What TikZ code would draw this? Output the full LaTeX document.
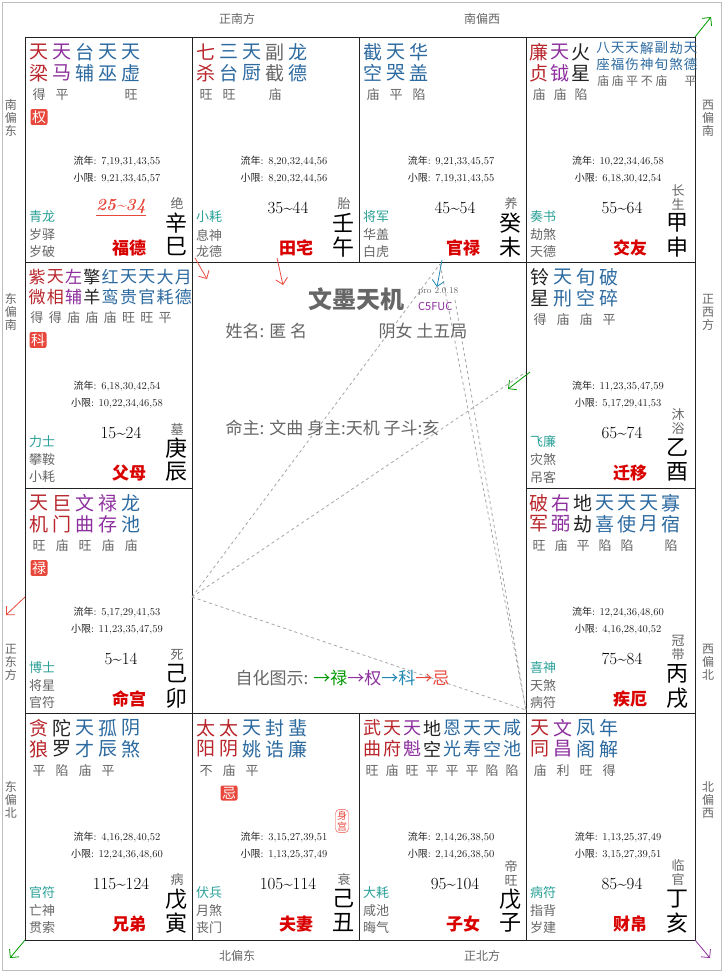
\documentclass[tikz,border=0pt]{standalone}
\usepackage{fontspec}
\newfontfamily\cjk{Noto Sans CJK SC}
\usetikzlibrary{arrows.meta}
\definecolor{xred}{HTML}{B8262C}
\definecolor{xpur}{HTML}{8E2F9E}
\definecolor{xblu}{HTML}{2C6AA0}
\definecolor{xblk}{HTML}{222222}
\definecolor{xgry}{HTML}{666666}
\definecolor{xtea}{HTML}{2AA198}
\definecolor{xbad}{HTML}{E8473C}
\tikzset{
  xing/.style={font=\cjk\fontsize{19}{19}\selectfont, inner sep=0pt},
  liang/.style={font=\cjk\fontsize{13}{13}\selectfont, text=xgry, inner sep=0pt},
  shen/.style={font=\cjk\fontsize{13}{14}\selectfont, inner sep=0pt, anchor=west},
  nian/.style={font=\fontsize{10.5}{11}\selectfont, text=xblk},
  badge/.style={font=\cjk\fontsize{14}{14}\selectfont, text=white, fill=xbad, rounded corners=2pt, inner sep=1.5pt},
  fang/.style={font=\cjk\fontsize{12}{13}\selectfont, text=xgry, align=center},
  gdash/.style={gray!70, dashed, thick},
  jiantou/.style={-{Straight Barb[length=6pt]}, thick},
}
\newcommand\liunian[2]{%
  \node[nian] at (92,124) {{\cjk\fontsize{10}{10}\selectfont 流年}: #1};
  \node[nian] at (92,141) {{\cjk\fontsize{10}{10}\selectfont 小限}: #2};
}
\newcommand\gongdi[8]{%
  \node[shen, text=xtea] at (4,180) {#1};
  \node[shen, text=xgry] at (4,198) {#2};
  \node[shen, text=xgry] at (4,215) {#3};
  \node[font=\fontsize{17}{17}\selectfont] (age) at (96,171) {#4};
  \node[font=\cjk\fontsize{13}{14}\selectfont, text=xgry, align=center, anchor=south, inner sep=0pt] at (152,173) {#5};
  \node[font=\cjk\fontsize{22}{22}\selectfont, inner sep=0pt] at (151,186) {#6};
  \node[font=\cjk\fontsize{22}{22}\selectfont, inner sep=0pt] at (151,210) {#7};
  \node[font=\cjk\bfseries\fontsize{17}{17}\selectfont, text=red!85!black] at (104,211) {#8};
}
\begin{document}
\begin{tikzpicture}[x=1pt,y=-1pt]
  \useasboundingbox (0,0) rectangle (723,972);
  \fill[white] (0,0) rectangle (723,972);
  \draw[gray!50] (2,2) rectangle (721,970);
  % grid
  \draw[xblk] (25,37) rectangle (695,940);
  \foreach \x in {192,359,526}{
    \draw[xblk] (\x,37) -- (\x,262);
    \draw[xblk] (\x,713) -- (\x,940);
  }
  \foreach \y in {262,488,713}{
    \draw[xblk] (25,\y) -- (192,\y);
    \draw[xblk] (526,\y) -- (695,\y);
  }
  \draw[xblk] (25,262) -- (695,262);
  \draw[xblk] (25,713) -- (695,713);
  \draw[xblk] (192,262) -- (192,713);
  \draw[xblk] (526,262) -- (526,713);
  % directions
  \node[fang] at (237,19) {正南方};
  \node[fang] at (482,19) {南偏西};
  \node[fang] at (237,956) {北偏东};
  \node[fang] at (482,956) {正北方};
  \node[fang] at (11,118) {南\\偏\\东};
  \node[fang] at (11,312) {东\\偏\\南};
  \node[fang] at (11,662) {正\\东\\方};
  \node[fang] at (11,800) {东\\偏\\北};
  \node[fang] at (708,118) {西\\偏\\南};
  \node[fang] at (708,312) {正\\西\\方};
  \node[fang] at (708,662) {西\\偏\\北};
  \node[fang] at (708,800) {北\\偏\\西};
  % corner arrows
  \draw[jiantou, green!60!black] (695,37) -- (711,17);
  \draw[jiantou, green!60!black] (25,940) -- (10,958);
  \draw[jiantou, xpur] (695,940) -- (710,958);
  \draw[jiantou, xbad] (25,597) -- (6,615);

  % center
  \coordinate (A) at (192,597);
  \coordinate (B) at (440,264);
  \coordinate (C) at (526,710);
  \coordinate (D) at (526,372);
  \draw[gdash] (A) -- (B);
  \draw[gdash] (A) -- (D);
  \draw[gdash] (A) -- (C);
  \draw[gdash] (B) -- (C);
  \draw[gdash] (455,300) -- (C);
  \draw[jiantou, xbad] (195,258) -- (207,279);
  \draw[jiantou, xbad] (277,258) -- (283,285);
  \draw[jiantou, xblu!80!cyan] (442,260) -- (437,287);
  \draw[jiantou, green!60!black] (530,372) -- (508,389);
  \node[font=\cjk\bfseries\fontsize{24}{24}\selectfont, text=xgry] (title) at (356,299) {文墨天机};
  \node[font=\fontsize{9}{9}\selectfont, text=xgry, anchor=west, inner sep=0pt] at (418,291) {pro 2.0.18};
  \node[font=\cjk\fontsize{11}{11}\selectfont, text=xpur, anchor=west, inner sep=0pt] at (418,306) {C5FUC};
  \node[font=\cjk\fontsize{17}{17}\selectfont, text=xgry, anchor=west] at (222,331) {姓名: 匿 名};
  \node[font=\cjk\fontsize{17}{17}\selectfont, text=xgry, anchor=west] at (375,331) {阴女 土五局};
  \node[font=\cjk\fontsize{17}{17}\selectfont, text=xgry, anchor=west] at (222,428) {命主: 文曲 身主:天机 子斗:亥};
  \node[font=\cjk\fontsize{17}{17}\selectfont, text=xgry, anchor=west] at (232,678) {自化图示: {\color{green!60!black}→禄}{\color{xpur}→权}{\color{xblu!80!cyan}→科}{\color{xbad}→忌}};

  % 巳
  \begin{scope}[shift={(25,37)}]
    \foreach \t/\b/\c/\l [count=\i] in {天/梁/xred/得, 天/马/xpur/平, 台/辅/xblu/, 天/巫/xblu/, 天/虚/xblu/旺}{
      \node[xing, text=\c] at ({14+23*(\i-1)},15) {\t};
      \node[xing, text=\c] at ({14+23*(\i-1)},36) {\b};
      \node[liang] at ({14+23*(\i-1)},58) {\l};
    }
    \node[badge] at (14,80) {权};
    \liunian{7,19,31,43,55}{9,21,33,45,57}
    \gongdi{青龙}{岁驿}{岁破}{\color{xbad}\bfseries\itshape\underline{25\textasciitilde34}}{绝}{辛}{巳}{福德}
  \end{scope}
  % 午
  \begin{scope}[shift={(192,37)}]
    \foreach \t/\b/\c/\l [count=\i] in {七/杀/xred/旺, 三/台/xblu/旺, 天/厨/xblu/, 副/截/xgry/庙, 龙/德/xblu/}{
      \node[xing, text=\c] at ({14+23*(\i-1)},15) {\t};
      \node[xing, text=\c] at ({14+23*(\i-1)},36) {\b};
      \node[liang] at ({14+23*(\i-1)},58) {\l};
    }
    \liunian{8,20,32,44,56}{8,20,32,44,56}
    \gongdi{小耗}{息神}{龙德}{35\textasciitilde44}{胎}{壬}{午}{田宅}
  \end{scope}
  % 未
  \begin{scope}[shift={(359,37)}]
    \foreach \t/\b/\c/\l [count=\i] in {截/空/xblu/庙, 天/哭/xblu/平, 华/盖/xblu/陷}{
      \node[xing, text=\c] at ({14+23*(\i-1)},15) {\t};
      \node[xing, text=\c] at ({14+23*(\i-1)},36) {\b};
      \node[liang] at ({14+23*(\i-1)},58) {\l};
    }
    \liunian{9,21,33,45,57}{7,19,31,43,55}
    \gongdi{将军}{华盖}{白虎}{45\textasciitilde54}{养}{癸}{未}{官禄}
  \end{scope}
  % 申
  \begin{scope}[shift={(526,37)}]
    \foreach \t/\b/\c/\l [count=\i] in {廉/贞/xred/庙, 天/钺/xpur/庙, 火/星/xblk/陷}{
      \node[xing, text=\c] at ({13+21*(\i-1)},15) {\t};
      \node[xing, text=\c] at ({13+21*(\i-1)},36) {\b};
      \node[liang] at ({13+21*(\i-1)},58) {\l};
    }
    \foreach \t/\b/\l [count=\i] in {八/座/庙, 天/福/庙, 天/伤/平, 解/神/不, 副/旬/庙, 劫/煞/, 天/德/平}{
      \node[font=\cjk\fontsize{13.5}{13.5}\selectfont, text=xblu, inner sep=0pt] at ({77+14.6*(\i-1)},11) {\t};
      \node[font=\cjk\fontsize{13.5}{13.5}\selectfont, text=xblu, inner sep=0pt] at ({77+14.6*(\i-1)},27) {\b};
      \node[font=\cjk\fontsize{12}{12}\selectfont, text=xgry, inner sep=0pt] at ({77+14.6*(\i-1)},44) {\l};
    }
    \liunian{10,22,34,46,58}{6,18,30,42,54}
    \gongdi{奏书}{劫煞}{天德}{55\textasciitilde64}{长\\生}{甲}{申}{交友}
  \end{scope}
  % 辰
  \begin{scope}[shift={(25,262)}]
    \foreach \t/\b/\c/\l [count=\i] in {紫/微/xred/得, 天/相/xred/得, 左/辅/xpur/庙, 擎/羊/xblk/庙, 红/鸾/xblu/庙, 天/贵/xblu/旺, 天/官/xblu/旺, 大/耗/xblu/平, 月/德/xblu/}{
      \node[xing, font=\cjk\fontsize{17}{17}\selectfont, text=\c] at ({12+18.3*(\i-1)},15) {\t};
      \node[xing, font=\cjk\fontsize{17}{17}\selectfont, text=\c] at ({12+18.3*(\i-1)},35) {\b};
      \node[liang] at ({12+18.3*(\i-1)},56) {\l};
    }
    \node[badge] at (13,78) {科};
    \liunian{6,18,30,42,54}{10,22,34,46,58}
    \gongdi{力士}{攀鞍}{小耗}{15\textasciitilde24}{墓}{庚}{辰}{父母}
  \end{scope}
  % 酉
  \begin{scope}[shift={(526,262)}]
    \foreach \t/\b/\c/\l [count=\i] in {铃/星/xblk/得, 天/刑/xblu/庙, 旬/空/xblu/庙, 破/碎/xblu/平}{
      \node[xing, text=\c] at ({14+23*(\i-1)},15) {\t};
      \node[xing, text=\c] at ({14+23*(\i-1)},36) {\b};
      \node[liang] at ({14+23*(\i-1)},58) {\l};
    }
    \liunian{11,23,35,47,59}{5,17,29,41,53}
    \gongdi{飞廉}{灾煞}{吊客}{65\textasciitilde74}{沐\\浴}{乙}{酉}{迁移}
  \end{scope}
  % 卯
  \begin{scope}[shift={(25,488)}]
    \foreach \t/\b/\c/\l [count=\i] in {天/机/xred/旺, 巨/门/xred/庙, 文/曲/xpur/旺, 禄/存/xpur/庙, 龙/池/xblu/庙}{
      \node[xing, text=\c] at ({14+23*(\i-1)},15) {\t};
      \node[xing, text=\c] at ({14+23*(\i-1)},36) {\b};
      \node[liang] at ({14+23*(\i-1)},58) {\l};
    }
    \node[badge] at (14,80) {禄};
    \liunian{5,17,29,41,53}{11,23,35,47,59}
    \gongdi{博士}{将星}{官符}{5\textasciitilde14}{死}{己}{卯}{命宫}
  \end{scope}
  % 戌
  \begin{scope}[shift={(526,488)}]
    \foreach \t/\b/\c/\l [count=\i] in {破/军/xred/旺, 右/弼/xpur/庙, 地/劫/xblk/平, 天/喜/xblu/陷, 天/使/xblu/陷, 天/月/xblu/, 寡/宿/xblu/陷}{
      \node[xing, text=\c] at ({13+22*(\i-1)},15) {\t};
      \node[xing, text=\c] at ({13+22*(\i-1)},36) {\b};
      \node[liang] at ({13+22*(\i-1)},58) {\l};
    }
    \liunian{12,24,36,48,60}{4,16,28,40,52}
    \gongdi{喜神}{天煞}{病符}{75\textasciitilde84}{冠\\带}{丙}{戌}{疾厄}
  \end{scope}
  % 寅
  \begin{scope}[shift={(25,713)}]
    \foreach \t/\b/\c/\l [count=\i] in {贪/狼/xred/平, 陀/罗/xblk/陷, 天/才/xblu/庙, 孤/辰/xblu/平, 阴/煞/xblu/}{
      \node[xing, text=\c] at ({14+23*(\i-1)},15) {\t};
      \node[xing, text=\c] at ({14+23*(\i-1)},36) {\b};
      \node[liang] at ({14+23*(\i-1)},58) {\l};
    }
    \liunian{4,16,28,40,52}{12,24,36,48,60}
    \gongdi{官符}{亡神}{贯索}{115\textasciitilde124}{病}{戊}{寅}{兄弟}
  \end{scope}
  % 丑
  \begin{scope}[shift={(192,713)}]
    \foreach \t/\b/\c/\l [count=\i] in {太/阳/xred/不, 太/阴/xred/庙, 天/姚/xblu/平, 封/诰/xblu/, 蜚/廉/xblu/}{
      \node[xing, text=\c] at ({14+23*(\i-1)},15) {\t};
      \node[xing, text=\c] at ({14+23*(\i-1)},36) {\b};
      \node[liang] at ({14+23*(\i-1)},58) {\l};
    }
    \node[badge] at (37,80) {忌};
    \node[draw=xbad, text=xbad, rounded corners=4pt, font=\cjk\fontsize{10}{11}\selectfont, align=center, inner sep=1.5pt] (shengong) at (150,108) {身\\宫};
    \liunian{3,15,27,39,51}{1,13,25,37,49}
    \gongdi{伏兵}{月煞}{丧门}{105\textasciitilde114}{衰}{己}{丑}{夫妻}
  \end{scope}
  % 子
  \begin{scope}[shift={(359,713)}]
    \foreach \t/\b/\c/\l [count=\i] in {武/曲/xred/旺, 天/府/xred/庙, 天/魁/xpur/旺, 地/空/xblk/平, 恩/光/xblu/平, 天/寿/xblu/平, 天/空/xblu/陷, 咸/池/xblu/陷}{
      \node[xing, font=\cjk\fontsize{18}{18}\selectfont, text=\c] at ({13+20*(\i-1)},15) {\t};
      \node[xing, font=\cjk\fontsize{18}{18}\selectfont, text=\c] at ({13+20*(\i-1)},36) {\b};
      \node[liang] at ({13+20*(\i-1)},58) {\l};
    }
    \liunian{2,14,26,38,50}{2,14,26,38,50}
    \gongdi{大耗}{咸池}{晦气}{95\textasciitilde104}{帝\\旺}{戊}{子}{子女}
  \end{scope}
  % 亥
  \begin{scope}[shift={(526,713)}]
    \foreach \t/\b/\c/\l [count=\i] in {天/同/xred/庙, 文/昌/xpur/利, 凤/阁/xblu/旺, 年/解/xblu/得}{
      \node[xing, text=\c] at ({14+23*(\i-1)},15) {\t};
      \node[xing, text=\c] at ({14+23*(\i-1)},36) {\b};
      \node[liang] at ({14+23*(\i-1)},58) {\l};
    }
    \liunian{1,13,25,37,49}{3,15,27,39,51}
    \gongdi{病符}{指背}{岁建}{85\textasciitilde94}{临\\官}{丁}{亥}{财帛}
  \end{scope}
\end{tikzpicture}
\end{document}
